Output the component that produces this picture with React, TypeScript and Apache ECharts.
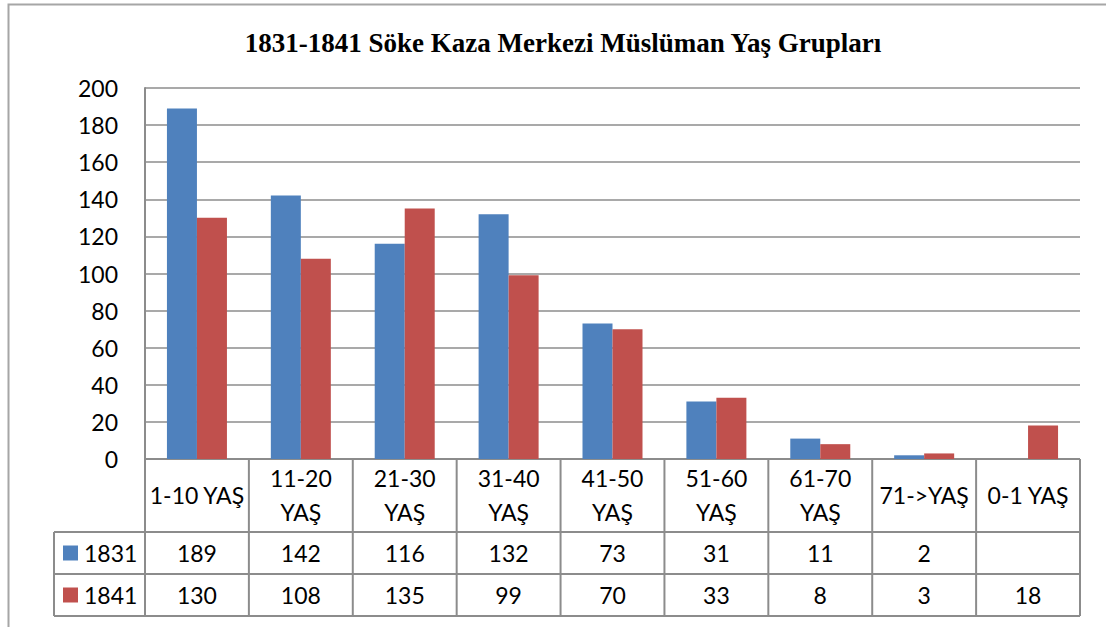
import React, { useEffect, useRef } from "react";
import * as echarts from "echarts";

const titleText = "1831-1841 Söke Kaza Merkezi Müslüman Yaş Grupları";
const categories = [
  "1-10 YAŞ",
  "11-20 YAŞ",
  "21-30 YAŞ",
  "31-40 YAŞ",
  "41-50 YAŞ",
  "51-60 YAŞ",
  "61-70 YAŞ",
  "71->YAŞ",
  "0-1 YAŞ",
];
const seriesNames = ["1831", "1841"];
const values1831: (number | null)[] = [189, 142, 116, 132, 73, 31, 11, 2, null];
const values1841: (number | null)[] = [130, 108, 135, 99, 70, 33, 8, 3, 18];
const yMin = 0;
const yMax = 200;
const yInterval = 20;

const colors = ["#4F81BD", "#C0504D"];

// layout
const W = 1106;
const H = 627;
const GL = 145;
const GT = 88;
const GW = 935;
const GH = 371;
const TABLE_LEFT = 54;
const ROW_Y = [GT + GH, 532, 574, 616];
const LINE = "#8c8c8c";
const FONT = "Lato, 'Open Sans', sans-serif";
const FS = 23;

function wrapLabel(s: string) {
  return s.length > 8 ? s.replace(" ", "\n") : s;
}

function buildGraphic() {
  const els: any[] = [];
  const n = categories.length;
  const cw = GW / n;
  const right = GL + GW;
  // outer frame
  els.push({
    type: "rect",
    shape: { x: 8.5, y: 4.5, width: W + 50, height: H + 50 },
    style: { fill: "none", stroke: "#a6a6a6", lineWidth: 2 },
    silent: true,
  });
  // horizontal table lines
  els.push({
    type: "line",
    shape: { x1: GL, y1: ROW_Y[0], x2: right, y2: ROW_Y[0] },
    style: { stroke: LINE, lineWidth: 2 },
  });
  for (let r = 1; r < ROW_Y.length; r++) {
    els.push({
      type: "line",
      shape: { x1: TABLE_LEFT, y1: ROW_Y[r], x2: right, y2: ROW_Y[r] },
      style: { stroke: LINE, lineWidth: 2 },
    });
  }
  // vertical lines
  els.push({
    type: "line",
    shape: { x1: TABLE_LEFT, y1: ROW_Y[1], x2: TABLE_LEFT, y2: ROW_Y[3] },
    style: { stroke: LINE, lineWidth: 2 },
  });
  for (let i = 0; i <= n; i++) {
    const x = GL + i * cw;
    els.push({
      type: "line",
      shape: { x1: x, y1: ROW_Y[0], x2: x, y2: ROW_Y[3] },
      style: { stroke: LINE, lineWidth: 2 },
    });
  }
  // header labels
  categories.forEach((c, i) => {
    els.push({
      type: "text",
      x: GL + (i + 0.5) * cw,
      y: (ROW_Y[0] + ROW_Y[1]) / 2 - 1,
      style: {
        text: wrapLabel(c),
        fill: "#000",
        fontFamily: FONT,
        fontSize: FS,
        lineHeight: 34,
        align: "center",
        verticalAlign: "middle",
      },
    });
  });
  // value rows
  const rows = [values1831, values1841];
  rows.forEach((vals, r) => {
    const cy = (ROW_Y[r + 1] + ROW_Y[r + 2]) / 2;
    els.push({
      type: "rect",
      shape: { x: 63, y: cy - 7.5, width: 15, height: 15 },
      style: { fill: colors[r] },
    });
    els.push({
      type: "text",
      x: 84,
      y: cy,
      style: {
        text: seriesNames[r],
        fill: "#000",
        fontFamily: FONT,
        fontSize: FS,
        align: "left",
        verticalAlign: "middle",
      },
    });
    vals.forEach((v, i) => {
      if (v === null) return;
      els.push({
        type: "text",
        x: GL + (i + 0.5) * cw,
        y: cy,
        style: {
          text: String(v),
          fill: "#000",
          fontFamily: FONT,
          fontSize: FS,
          align: "center",
          verticalAlign: "middle",
        },
      });
    });
  });
  return els;
}

export default function App() {
  const ref = useRef<HTMLDivElement>(null);
  useEffect(() => {
    if (!ref.current) return;
    const chart = echarts.init(ref.current, null, { renderer: "svg" });
    chart.setOption({
      animation: false,
      backgroundColor: "#ffffff",
      title: {
        text: titleText,
        left: 558,
        top: 24,
        textAlign: "center",
        textStyle: {
          fontFamily: "'Liberation Serif', 'Times New Roman', serif",
          fontWeight: "bold",
          fontSize: 27,
          color: "#000",
        },
      },
      grid: { left: GL, top: GT, width: GW, height: GH, containLabel: false },
      xAxis: {
        type: "category",
        data: categories,
        axisLine: { show: false },
        axisTick: { show: false },
        axisLabel: { show: false },
        splitLine: { show: false },
      },
      yAxis: {
        type: "value",
        min: yMin,
        max: yMax,
        interval: yInterval,
        axisLine: { show: true, lineStyle: { color: LINE, width: 2 } },
        axisTick: { show: false },
        axisLabel: {
          color: "#000",
          fontFamily: FONT,
          fontSize: FS,
          margin: 27,
        },
        splitLine: { show: true, lineStyle: { color: LINE, width: 1.5 } },
      },
      series: [
        {
          name: seriesNames[0],
          type: "bar",
          data: values1831,
          barWidth: 30,
          barGap: "0%",
          itemStyle: { color: colors[0] },
        },
        {
          name: seriesNames[1],
          type: "bar",
          data: values1841,
          barWidth: 30,
          barGap: "0%",
          itemStyle: { color: colors[1] },
        },
      ],
      graphic: buildGraphic(),
    });
    return () => chart.dispose();
  }, []);
  return (
    <div
      ref={ref}
      style={{ position: "fixed", left: 0, top: 0, width: W, height: H }}
    />
  );
}
